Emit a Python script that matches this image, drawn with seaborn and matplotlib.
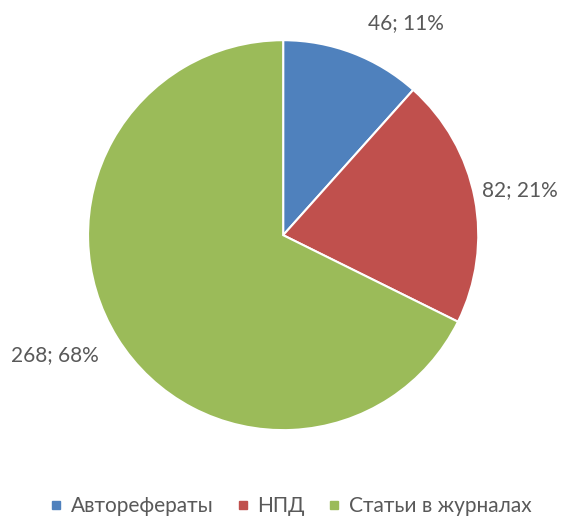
import matplotlib
matplotlib.use('Agg')
import matplotlib.pyplot as plt
from matplotlib.lines import Line2D
import seaborn as sns

# chart data
categories = ['Авторефераты', 'НПД', 'Статьи в журналах']
counts = [46, 82, 268]
percents = [11, 21, 68]
colors = ['#4F81BD', '#C0504D', '#9BBB59']

sns.set_theme(style='white')
plt.rcParams['font.family'] = ['Lato', 'DejaVu Sans']

fig = plt.figure(figsize=(5.68, 5.22), dpi=100)
ax = fig.add_axes([0.155, 0.176, 0.687, 0.747])

wedges, _ = ax.pie(counts, colors=colors, startangle=90, counterclock=False,
                   radius=1.0, wedgeprops=dict(edgecolor='white', linewidth=1.5))
ax.set_xlim(-1, 1)
ax.set_ylim(-1, 1)
ax.set_aspect('auto')

# label positions (best-fit style, like the original)
label_pos = [(0.63, 1.09), (1.215, 0.23), (-1.17, -0.615)]
for (x, y), n, p in zip(label_pos, counts, percents):
    ax.text(x, y, f'{n}; {p}%', ha='center', va='center',
            fontsize=15, color='#595959', clip_on=False)

handles = [Line2D([], [], marker='s', linestyle='none', markersize=6,
                  markerfacecolor=c, markeredgecolor=c) for c in colors]
fig.legend(handles, categories, loc='center', bbox_to_anchor=(0.51, 0.03),
           ncol=3, frameon=False, fontsize=15, labelcolor='#595959',
           handletextpad=0.3, columnspacing=1.0, handlelength=0.8,
           borderpad=0.1)

fig.savefig('out.png', dpi=100)
